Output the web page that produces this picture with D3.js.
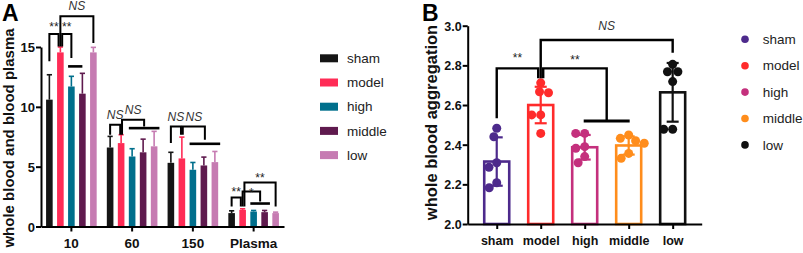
<!DOCTYPE html>
<html><head><meta charset="utf-8">
<script src="https://cdn.jsdelivr.net/npm/d3@7"></script>
<style>
body{margin:0;background:#fff}
svg{display:block}
text{font-family:"Liberation Sans",Arial,sans-serif}
</style>
</head><body>
<svg id="c" width="803" height="253"></svg>
<script>
// ---------------- DATA ----------------
// Panel A
const groupsA = ["10", "60", "150", "Plasma"];
const seriesA = ["sham", "model", "high", "middle", "low"];
const shamA   = [10.6, 6.6, 5.32, 1.12];
const modelA  = [14.55, 6.97, 5.69, 1.39];
const highA   = [11.7, 5.85, 4.74, 1.25];
const middleA = [11.1, 6.2, 5.1, 1.2];
const lowA    = [14.55, 6.7, 5.38, 1.12];
const shamErrA   = [2.08, 0.93, 0.88, 0.19];
const modelErrA  = [0.45, 0.70, 1.78, 0.09];
const highErrA   = [0.85, 0.65, 0.61, 0.09];
const middleErrA = [1.70, 1.10, 0.70, 0.14];
const lowErrA    = [0.42, 1.25, 0.89, 0.08];
const yTicksA = [0, 5, 10, 15];
const bracketsA = [
  {group:"10", from:"sham",  to:"model", top:16.09, fromEnd:13.8,  toEnd:15.05, label:"**", labelAt:16.95},
  {group:"10", from:"model", to:"low",   top:17.56, fromEnd:15.05, toEnd:15.33, label:"NS", labelAt:18.46},
  {group:"10", from:"model", to:"high",  top:16.09, fromEnd:15.05, toEnd:14.08, label:"**", labelAt:16.95},
  {group:"60", from:"sham",  to:"model", top:8.5,   fromEnd:7.67,  toEnd:7.67,  label:"NS", labelAt:9.34},
  {group:"60", from:"model", span:["high","low"], top:8.92, fromEnd:7.67, toEnd:8.36, spanAt:8.22, label:"NS", labelAt:9.76},
  {group:"150", from:"sham",  to:"model", top:8.36, fromEnd:6.97, toEnd:7.67, label:"NS", labelAt:9.2},
  {group:"150", from:"model", span:["high","low"], top:8.36, fromEnd:7.67, toEnd:7.25, spanAt:6.91, label:"NS", labelAt:9.2},
  {group:"Plasma", from:"sham",  to:"model", top:2.43, fromEnd:1.67, toEnd:1.67, label:"**", labelAt:3.12},
  {group:"Plasma", from:"model", span:["high","middle"], top:2.93, fromEnd:1.67, toEnd:2.09, spanAt:1.92, label:"*", labelAt:3.08},
  {group:"Plasma", from:"model", to:"low", top:3.68, fromEnd:1.67, toEnd:1.67, label:"**", labelAt:4.32}
];
const linesA = [{group:"10", span:["high","middle"], at:13.38}];

// Panel B
const groupsB = ["sham", "model", "high", "middle", "low"];
const meanB = [2.315, 2.600, 2.387, 2.396, 2.664];
const sdB   = [0.122, 0.092, 0.062, 0.046, 0.148];
const shamB   = [2.483, 2.440, 2.309, 2.286, 2.208, 2.183];
const modelB  = [2.712, 2.667, 2.662, 2.550, 2.550, 2.457];
const highB   = [2.457, 2.457, 2.390, 2.382, 2.340, 2.309];
const middleB = [2.449, 2.432, 2.420, 2.407, 2.356, 2.331];
const lowB    = [2.805, 2.768, 2.768, 2.718, 2.478, 2.478];
const yTicksB = [2.0, 2.2, 2.4, 2.6, 2.8, 3.0];
const bracketsB = [
  {from:"sham",  to:"model", top:2.785, fromEnd:2.533, toEnd:2.735, label:"**", labelAt:2.85},
  {from:"model", to:"low",   top:2.928, fromEnd:2.735, toEnd:2.864, label:"NS", labelAt:3.0},
  {from:"model", span:["high","middle"], top:2.785, fromEnd:2.735, toEnd:2.52, spanAt:2.52, label:"**", labelAt:2.84}
];

// ---------------- STYLE ----------------
const colA = {sham:"#151515", model:"#ff2c56", high:"#006f8c", middle:"#5f1a4e", low:"#c67bb2"};
const colB = {sham:"#4d2a8c", model:"#ff2b2b", high:"#c4307d", middle:"#ff8d1c", low:"#111111"};
const FONT = '"Liberation Sans",Arial,sans-serif';

const svg = d3.select("#c");
svg.append("rect").attr("width",803).attr("height",253).attr("fill","#fff");

function styleAxis(g, fs) {
  g.selectAll("path,line").attr("stroke","#000").attr("stroke-width",2);
  g.selectAll("text").attr("fill","#111").attr("font-size",fs).attr("font-weight","bold").attr("font-family",FONT);
}

function drawBrackets(g, list, legX, spanExt, yS, spread, sw) {
  const uses = {};
  list.forEach((b,i) => {
    const kf = (b.group||"") + "|" + b.from;
    (uses[kf] = uses[kf] || []).push(i + "f");
    if (b.to) { const kt = (b.group||"") + "|" + b.to; (uses[kt] = uses[kt] || []).push(i + "t"); }
  });
  const nud = {};
  Object.values(uses).forEach(arr => arr.forEach((id,k) => nud[id] = (k - (arr.length-1)/2) * spread));
  list.forEach((b,i) => {
    const xl = legX(b.group, b.from) + nud[i+"f"];
    let xr;
    if (b.span) {
      const [s0,s1] = spanExt(b.group, b.span);
      xr = (s0+s1)/2;
      g.append("line").attr("x1",s0).attr("x2",s1).attr("y1",yS(b.spanAt)).attr("y2",yS(b.spanAt))
        .attr("stroke","#000").attr("stroke-width",sw+0.6);
    } else {
      xr = legX(b.group, b.to) + nud[i+"t"];
    }
    g.append("path")
      .attr("d", `M${xl},${yS(b.fromEnd)}V${yS(b.top)}H${xr}V${yS(b.toEnd)}`)
      .attr("fill","none").attr("stroke","#000").attr("stroke-width",sw).attr("stroke-linejoin","miter");
    const isNS = b.label === "NS";
    g.append("text").attr("x",(xl+xr)/2).attr("y", yS(b.labelAt) + (isNS ? 4.3 : 7))
      .attr("text-anchor","middle").attr("font-size",12).attr("font-family",FONT)
      .attr("font-style", isNS ? "italic" : "normal").attr("fill", isNS ? "#333" : "#222")
      .text(b.label);
  });
}

// ---------------- PANEL A ----------------
(function(){
  const valsA = {sham:shamA, model:modelA, high:highA, middle:middleA, low:lowA};
  const errsA = {sham:shamErrA, model:modelErrA, high:highErrA, middle:middleErrA, low:lowErrA};
  const x0 = d3.scaleBand().domain(groupsA).range([41, 284]).padding(0);
  const x1 = d3.scaleBand().domain(seriesA).range([-27.5, 27.5]).paddingInner(0.4).paddingOuter(0.2);
  const y = d3.scaleLinear().domain([0, 15]).range([226.5, 47]);
  const gc = g => x0(g) + x0.bandwidth()/2;
  const g = svg.append("g");

  seriesA.forEach(s => {
    groupsA.forEach((grp, gi) => {
      const v = valsA[s][gi], e = errsA[s][gi];
      const cx = gc(grp) + x1(s) + x1.bandwidth()/2;
      g.append("rect").attr("x", gc(grp) + x1(s)).attr("width", x1.bandwidth())
        .attr("y", y(v)).attr("height", y(0) - y(v)).attr("fill", colA[s]);
      g.append("line").attr("x1",cx).attr("x2",cx).attr("y1",y(v)).attr("y2",y(v+e))
        .attr("stroke",colA[s]).attr("stroke-width",1.6);
      g.append("line").attr("x1",cx-2.6).attr("x2",cx+2.6).attr("y1",y(v+e)).attr("y2",y(v+e))
        .attr("stroke",colA[s]).attr("stroke-width",1.6);
    });
  });

  const ya = g.append("g").attr("transform","translate(41,0)")
    .call(d3.axisLeft(y).tickValues(yTicksA).tickSize(5).tickSizeOuter(0).tickPadding(1));
  styleAxis(ya, 13);
  ya.selectAll("text").attr("dy","0.36em");
  const xa = g.append("g").attr("transform","translate(0,226.5)")
    .call(d3.axisBottom(x0).tickSize(5).tickSizeOuter(0));
  styleAxis(xa, 13.5);
  xa.selectAll("text").attr("y", 21.5).attr("dy", 0);

  const legX = (grp, cat) => gc(grp) + x1(cat) + x1.bandwidth()/2;
  const spanExt = (grp, sp) => [gc(grp) + x1(sp[0]), gc(grp) + x1(sp[1]) + x1.bandwidth() + 2];
  drawBrackets(g, bracketsA, legX, spanExt, y, 1.8, 2);
  linesA.forEach(l => {
    const [s0,s1] = [gc(l.group) + x1(l.span[0]), gc(l.group) + x1(l.span[1]) + x1.bandwidth()/2];
    g.append("line").attr("x1",s0).attr("x2",s1).attr("y1",y(l.at)).attr("y2",y(l.at))
      .attr("stroke","#000").attr("stroke-width",2.6);
  });

  g.append("text").attr("transform","translate(14,138) rotate(-90)").attr("text-anchor","middle")
    .attr("font-size",15).attr("font-weight","bold").attr("fill","#111").text("whole blood and blood plasma");
  g.append("text").attr("x",2).attr("y",21).attr("font-size",23).attr("font-weight","bold").attr("fill","#000").text("A");

  const lg = g.append("g");
  seriesA.forEach((s,i) => {
    const cy = 58.3 + i*24.2;
    lg.append("rect").attr("x",320).attr("y",cy-4).attr("width",18).attr("height",8).attr("fill",colA[s]);
    lg.append("text").attr("x",347).attr("y",cy).attr("dy","0.35em").attr("font-size",13.5)
      .attr("fill","#222").text(s);
  });
})();

// ---------------- PANEL B ----------------
(function(){
  const ptsB = [shamB, modelB, highB, middleB, lowB];
  const x = d3.scalePoint().domain(groupsB).range([467.7, 701.7]).padding(0.66);
  const y = d3.scaleLinear().domain([2, 3]).range([224, 25.7]);
  const g = svg.append("g");
  const r = 4.5;

  groupsB.forEach((grp, i) => {
    const m = meanB[i], sd = sdB[i], cx = x(grp), c = colB[grp];
    g.append("rect").attr("x", cx-12.5).attr("width", 25).attr("y", y(m)).attr("height", y(2)-y(m))
      .attr("fill","#fff").attr("stroke", c).attr("stroke-width", 2.6);
    // beeswarm placement of points
    const placed = [];
    ptsB[i].slice().sort((a,b)=>b-a).forEach(v => {
      const py = y(v);
      const cands = [0];
      placed.forEach(p => {
        const dy = Math.abs(p.y - py);
        if (dy < 2*r) { const w = Math.sqrt(4*r*r - dy*dy); cands.push(p.x - w, p.x + w); }
      });
      const ok = cands.filter(cx0 => placed.every(p => Math.hypot(p.x-cx0, p.y-py) >= 2*r - 0.01));
      ok.sort((a,b) => Math.abs(a)-Math.abs(b) || a-b);
      const px = ok.length ? ok[0] : 0;
      placed.push({x:px, y:py});
    });
    placed.forEach(p => g.append("circle").attr("cx", cx + p.x).attr("cy", p.y).attr("r", r).attr("fill", c));
    g.append("line").attr("x1",cx).attr("x2",cx).attr("y1",y(m-sd)).attr("y2",y(m+sd))
      .attr("stroke",c).attr("stroke-width",2.2);
    [m-sd, m+sd].forEach(v => g.append("line").attr("x1",cx-6).attr("x2",cx+6).attr("y1",y(v)).attr("y2",y(v))
      .attr("stroke",c).attr("stroke-width",2.2));
  });

  const ya = g.append("g").attr("transform","translate(467.7,0)")
    .call(d3.axisLeft(y).tickValues(yTicksB).tickFormat(d3.format(".1f")).tickSize(5).tickSizeOuter(0).tickPadding(1));
  styleAxis(ya, 12.5);
  ya.selectAll("text").attr("dy","0.36em");
  const xa = g.append("g").attr("transform","translate(0,224)")
    .call(d3.axisBottom(x).tickSize(5).tickSizeOuter(0));
  styleAxis(xa, 12.5);
  xa.selectAll("text").attr("y", 21).attr("dy", 0);

  drawBrackets(g, bracketsB, (grp, cat) => x(cat), (grp, sp) => [x(sp[0]) - 1, x(sp[1]) + 1], y, 2.5, 2.4);

  g.append("text").attr("transform","translate(437,122.5) rotate(-90)").attr("text-anchor","middle")
    .attr("font-size",16.5).attr("font-weight","bold").attr("fill","#111").text("whole blood aggregation");
  g.append("text").attr("x",422).attr("y",21).attr("font-size",23).attr("font-weight","bold").attr("fill","#000").text("B");

  groupsB.forEach((s,i) => {
    const cy = 39.3 + i*26.4;
    g.append("circle").attr("cx",745).attr("cy",cy).attr("r",3.8).attr("fill",colB[s]);
    g.append("text").attr("x",762.7).attr("y",cy).attr("dy","0.35em").attr("font-size",13.5)
      .attr("fill","#222").text(s);
  });
})();
</script>
</body></html>
